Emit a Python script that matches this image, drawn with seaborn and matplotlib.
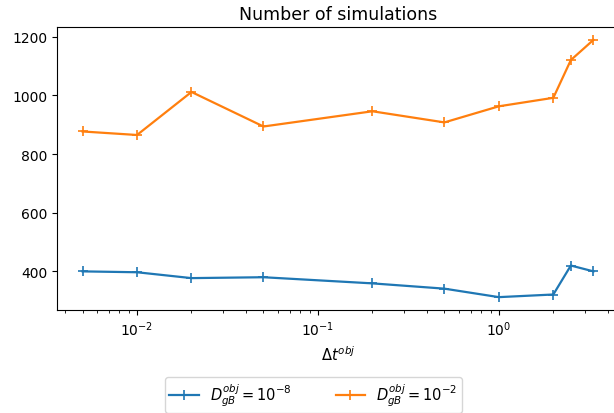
import matplotlib
matplotlib.use("Agg")
import matplotlib.pyplot as plt
import seaborn as sns
import pandas as pd

dt_obj = [0.005, 0.01, 0.02, 0.05, 0.2, 0.5, 1.0, 2.0, 2.5, 10/3]
sims_low = [399, 396, 376, 379, 358, 340, 311, 320, 419, 399]
sims_high = [877, 865, 1012, 894, 946, 908, 963, 992, 1121, 1190]
labels = [r'$D_{gB}^{obj} = 10^{-8}$', r'$D_{gB}^{obj} = 10^{-2}$']

df = pd.concat([
    pd.DataFrame({'dt': dt_obj, 'n': sims_low, 'series': labels[0]}),
    pd.DataFrame({'dt': dt_obj, 'n': sims_high, 'series': labels[1]}),
])

fig = plt.figure(figsize=(6.14, 4.14), dpi=100)
ax = fig.add_axes([57/614, 1 - 311/414, (619-57)/614, (311-28)/414])
sns.lineplot(data=df, x='dt', y='n', hue='series', marker='+', markersize=7,
             markeredgewidth=1.2, palette=['#1f77b4', '#ff7f0e'], ax=ax,
             linewidth=1.6, legend=True)
for ln in ax.lines:
    ln.set_markeredgecolor(ln.get_color())
ax.set_xscale('log')
ax.set_title('Number of simulations', fontsize=12.5)
ax.set_xlabel(r'$\Delta t^{obj}$', fontsize=10.5)
ax.set_ylabel('')
ax.tick_params(labelsize=10)
h, l = ax.get_legend_handles_labels()
for hd in h:
    hd.set_markeredgecolor(hd.get_color())
    hd.set_linewidth(1.6)
ax.get_legend().remove()
fig.legend(h, l, ncol=2, loc='upper center', bbox_to_anchor=(313.5/614, 1 - 371/414),
           fontsize=10.5, frameon=True, columnspacing=3, borderpad=0.3)
fig.savefig('out.png', dpi=100)
